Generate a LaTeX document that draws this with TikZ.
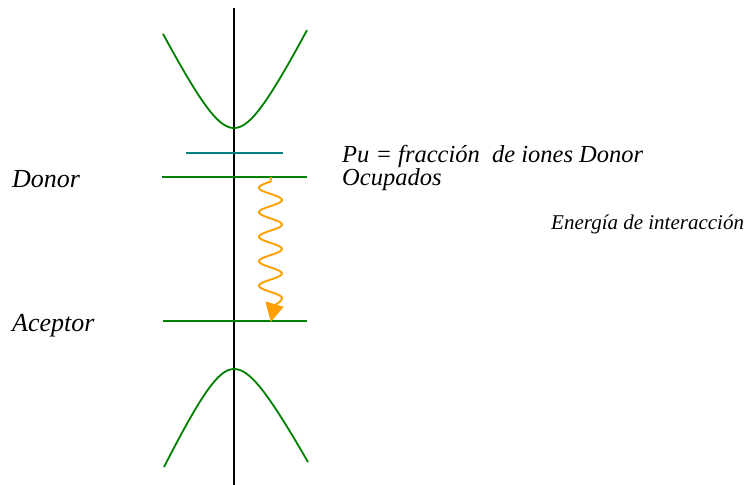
\documentclass[tikz,border=0pt]{standalone}
\usepackage{fontspec}
\setmainfont{Liberation Serif}[ItalicFont={Liberation Serif Italic}]
\newfontfamily\timesit{Liberation Serif Italic}
\usetikzlibrary{arrows.meta}
\definecolor{bandgreen}{RGB}{0,128,0}
\definecolor{levelteal}{RGB}{0,128,128}
\definecolor{waveorange}{RGB}{255,160,0}
\begin{document}
\begin{tikzpicture}[x=1pt,y=-1pt,
  band/.style={draw=bandgreen,line width=1.8pt},
  level/.style={draw=bandgreen,line width=1.8pt},
  axisline/.style={draw=black,line width=1.8pt},
  wave/.style={draw=waveorange,line width=1.9pt},
  wavehead/.style={fill=waveorange,draw=waveorange,line width=0.8pt,line join=miter},
  lbl/.style={anchor=base west,inner sep=0pt,font=\timesit\fontsize{26}{30}\selectfont},
  lblmid/.style={anchor=base west,inner sep=0pt,font=\timesit\fontsize{24.5}{28}\selectfont},
  lblsmall/.style={anchor=base west,inner sep=0pt,font=\timesit\fontsize{21}{24}\selectfont}]
\useasboundingbox (0,0) rectangle (748,485);
% vertical axis
\coordinate (axtop) at (234,8);
\coordinate (axbot) at (234,485);
\draw[axisline] (axtop) -- (axbot);
% conduction band
\draw[band] plot[domain=-71:73,samples=90,smooth] ({234+\x},{128-60*(sqrt(1+(\x/30)^2)-1)});
% valence band
\draw[band] plot[domain=-70:0,samples=50,smooth] ({234+\x},{369+63.7*(sqrt(1+(\x/30)^2)-1)});
\draw[band] plot[domain=0:74,samples=50,smooth] ({234+\x},{369+56*(sqrt(1+(\x/30)^2)-1)});
% levels
\coordinate (tl) at (186,153); \coordinate (tr) at (283,153);
\coordinate (dl) at (162,177); \coordinate (dr) at (307,177);
\coordinate (al) at (163,321); \coordinate (ar) at (307,321);
\draw[draw=levelteal,line width=1.8pt] (tl) -- (tr);
\draw[level] (dl) -- (dr);
\draw[level] (al) -- (ar);
% wavy transition
\coordinate (wstart) at (271,177);
\coordinate (wbase) at (275,305);
\coordinate (hl) at (266,302);
\coordinate (hr) at (283,307);
\coordinate (htip) at (271,321);
\draw[wave]
  (wstart) -- plot[domain=181.6:298,samples=120,smooth] ({270.5+11.5*cos((\x-200)*14.6939)},\x)
  .. controls (282,301) and (278,303) .. (wbase);
\filldraw[wavehead] (hl) -- (hr) -- (htip) -- cycle;
% labels
\node[lbl] (donor) at (12,187) {Donor};
\node[lbl] (aceptor) at (12,331) {Aceptor};
\node[lblmid] (pu) at (342,162) {Pu = fracción\ \ de iones Donor};
\node[lblmid] (ocup) at (342,185) {Ocupados};
\node[lblsmall] (energia) at (551,229) {Energía de interacción};
\end{tikzpicture}
\end{document}
